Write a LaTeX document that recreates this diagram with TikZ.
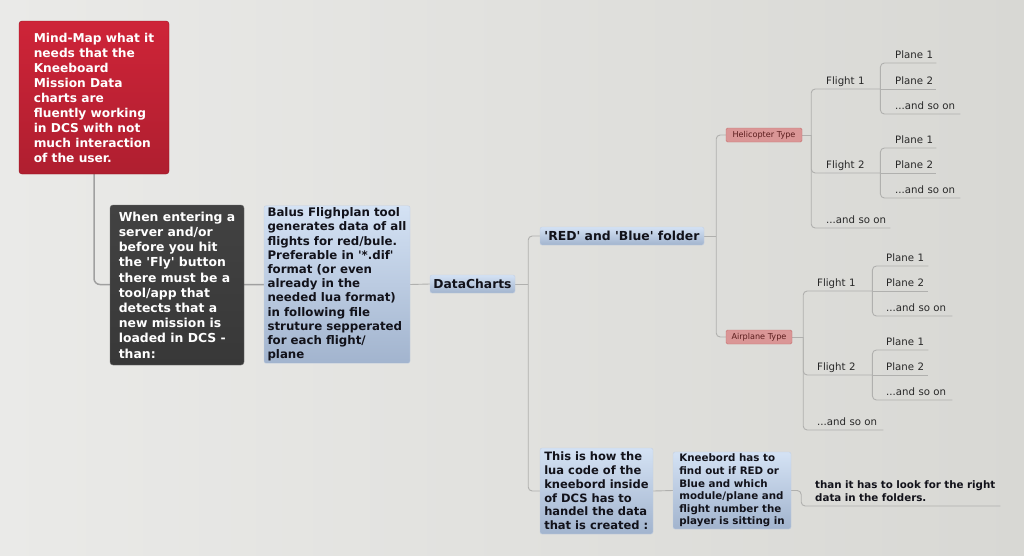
\documentclass[tikz,border=0pt]{standalone}
\usepackage{fontspec}
\setmainfont{DejaVu Sans}
\usetikzlibrary{backgrounds}

\definecolor{paperlight}{RGB}{234,234,232}
\definecolor{paperdark}{RGB}{216,216,212}
\definecolor{linkgray}{RGB}{176,176,174}
\definecolor{trunkgray}{RGB}{160,160,160}
\definecolor{redtop}{RGB}{206,36,56}
\definecolor{redmid}{RGB}{170,18,34}
\definecolor{rededge}{RGB}{150,18,30}
\definecolor{darktop}{RGB}{66,66,66}
\definecolor{darkmid}{RGB}{24,24,24}
\definecolor{darkedge}{RGB}{110,110,110}
\definecolor{bluetop}{RGB}{212,226,244}
\definecolor{bluebot}{RGB}{162,180,206}
\definecolor{blueedge}{RGB}{196,208,226}
\definecolor{typefill}{RGB}{218,150,150}
\definecolor{typeedge}{RGB}{198,112,112}
\definecolor{typetext}{RGB}{90,28,28}
\definecolor{inkblack}{RGB}{18,18,26}
\definecolor{inkgray}{RGB}{40,40,40}

\begin{document}
\begin{tikzpicture}[x=1pt, y=-1pt,
	link/.style={draw=linkgray, line width=0.9pt, rounded corners=4pt},
	trunk/.style={draw=trunkgray, line width=1.5pt, rounded corners=6pt},
	redbox/.style={rounded corners=3pt, draw=rededge, top color=redtop, middle color=redmid, bottom color=redtop!85!black, text=white, align=left, inner sep=2pt, font=\fontsize{12.2}{15}\selectfont\bfseries},
	darkbox/.style={rounded corners=3pt, draw=darkedge, top color=darktop, middle color=darkmid, bottom color=darktop!85!black, text=white, align=left, inner sep=2pt, font=\fontsize{12.4}{15.2}\selectfont\bfseries},
	bluebox/.style={rounded corners=2pt, draw=blueedge, top color=bluetop, bottom color=bluebot, text=inkblack, align=left, inner sep=2pt},
	typebox/.style={rounded corners=1.5pt, draw=typeedge, fill=typefill, text=typetext, inner sep=1pt, font=\fontsize{8.1}{10}\selectfont},
	leaf/.style={anchor=south west, text width=#1, align=left, inner xsep=0pt, inner ysep=4pt, text depth=0pt, text=inkgray, font=\fontsize{10.2}{12}\selectfont},
	note/.style={anchor=south west, text width=#1, align=left, inner xsep=0pt, inner ysep=4pt, text=inkblack, font=\fontsize{10.3}{13}\selectfont\bfseries},
	]
	\useasboundingbox (0,0) rectangle (1024,555);

	\node[redbox, minimum width=150pt, minimum height=153pt] (goal) at (94,97.5) {Mind-Map what it\\needs that the\\Kneeboard\\Mission Data\\charts are\\fluently working\\in DCS with not\\much interaction\\of the user.};
	\node[darkbox, minimum width=134pt, minimum height=160pt] (entry) at (177,285) {When entering a\\server and/or\\before you hit\\the \textquotesingle Fly\textquotesingle{} button\\there must be a\\tool/app that\\detects that a\\new mission is\\loaded in DCS -\\than:};
	\node[bluebox, minimum width=146pt, minimum height=155pt, font=\fontsize{11.8}{14.2}\selectfont\bfseries] (flightplan) at (337,284.5) {Balus Flighplan tool\\generates data of all\\flights for red/bule.\\Preferable in \textquotesingle*.dif\textquotesingle\\format (or even\\already in the\\needed lua format)\\in following file\\struture sepperated\\for each flight/\\plane};
	\node[bluebox, minimum width=85pt, minimum height=18pt, font=\fontsize{12.3}{14}\selectfont\bfseries] (datacharts) at (472.5,284) {DataCharts};
	\node[bluebox, minimum width=164pt, minimum height=18pt, font=\fontsize{12.4}{14}\selectfont\bfseries] (folder) at (622,236) {\textquotesingle RED\textquotesingle{} and \textquotesingle Blue\textquotesingle{} folder};
	\node[bluebox, minimum width=113pt, minimum height=86pt, font=\fontsize{11.5}{13.8}\selectfont\bfseries] (luacode) at (596.5,491) {This is how the\\lua code of the\\kneebord inside\\of DCS has to\\handel the data\\that is created :};
	\node[bluebox, minimum width=118pt, minimum height=77pt, font=\fontsize{10.3}{12.6}\selectfont\bfseries] (kneebord) at (732,490.5) {Kneebord has to\\find out if RED or\\Blue and which\\module/plane and\\flight number the\\player is sitting in};
	\node[note=185pt] (lookup) at (815,506) {than it has to look for the right\\data in the folders.};

	\node[typebox, minimum width=76pt, minimum height=14pt] (heli) at (764,135) {Helicopter Type};
	\node[typebox, minimum width=66pt, minimum height=14pt] (airplane) at (759,337) {Airplane Type};

	\node[leaf=54pt] (hf1) at (826,89) {Flight 1};
	\node[leaf=41pt] (hf1-1) at (895,63) {Plane 1};
	\node[leaf=41pt] (hf1-2) at (895,89) {Plane 2};
	\node[leaf=65pt] (hf1-3) at (895,114) {...and so on};
	\node[leaf=54pt] (hf2) at (826,173) {Flight 2};
	\node[leaf=41pt] (hf2-1) at (895,148) {Plane 1};
	\node[leaf=41pt] (hf2-2) at (895,173) {Plane 2};
	\node[leaf=65pt] (hf2-3) at (895,198) {...and so on};
	\node[leaf=64pt] (hf3) at (826,228) {...and so on};

	\node[leaf=55pt] (af1) at (817,291) {Flight 1};
	\node[leaf=42pt] (af1-1) at (886,266) {Plane 1};
	\node[leaf=42pt] (af1-2) at (886,291) {Plane 2};
	\node[leaf=66pt] (af1-3) at (886,316) {...and so on};
	\node[leaf=55pt] (af2) at (817,375) {Flight 2};
	\node[leaf=42pt] (af2-1) at (886,350) {Plane 1};
	\node[leaf=42pt] (af2-2) at (886,375) {Plane 2};
	\node[leaf=66pt] (af2-3) at (886,400) {...and so on};
	\node[leaf=66pt] (af3) at (817,430) {...and so on};

	\begin{scope}[on background layer]
		\fill[left color=paperlight, right color=paperdark] (0,0) rectangle (1024,555);
		\draw[trunk] (goal.south) |- (flightplan.west);
		\draw[link] (flightplan.east) -- (datacharts.west);
		\coordinate (dcfork) at ([xshift=13pt]datacharts.east);
		\draw[link] (datacharts.east) -- (dcfork);
		\draw[link] (dcfork) |- (folder.west);
		\draw[link] (dcfork) |- (luacode.west);
		\draw[link] (luacode.east) -- (kneebord.west);
		\draw[link] (kneebord.east) -- ++(10,0) |- (lookup.south east);
		\coordinate (typefork) at ([xshift=12pt]folder.east);
		\draw[link] (folder.east) -- (typefork);
		\draw[link] (typefork) |- (heli.west);
		\draw[link] (typefork) |- (airplane.west);
		\coordinate (helifork) at ([xshift=9pt]heli.east);
		\coordinate (airfork) at ([xshift=11pt]airplane.east);
		\draw[link] (heli.east) -- (helifork);
		\draw[link] (airplane.east) -- (airfork);
		\foreach \f in {hf1,hf2,hf3} \draw[link] (helifork) |- (\f.south east);
		\foreach \f in {af1,af2,af3} \draw[link] (airfork) |- (\f.south east);
		\foreach \f in {hf1,hf2,af1,af2} {
			\draw[link] (\f.south east) |- (\f-1.south east);
			\draw[link] (\f.south east) -- (\f-2.south east);
			\draw[link] (\f.south east) |- (\f-3.south east);
		}
	\end{scope}
\end{tikzpicture}
\end{document}
